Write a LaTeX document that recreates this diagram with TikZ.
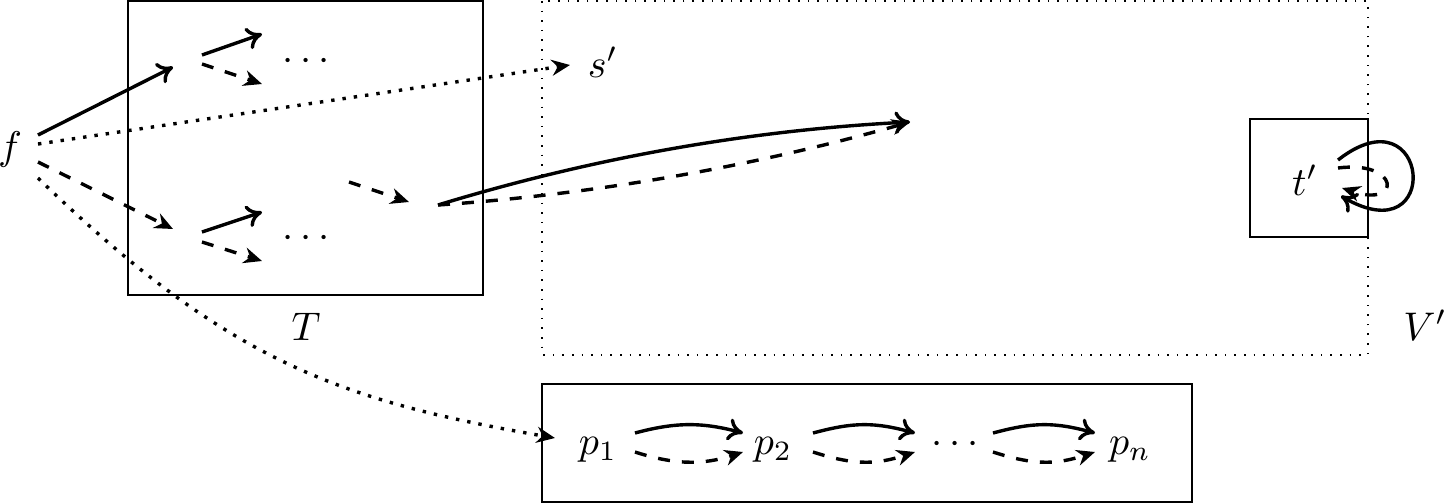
\documentclass[tikz,border=0pt]{standalone}
\usetikzlibrary{arrows.meta}
\begin{document}
\begin{tikzpicture}[x=0.25pt,y=-0.25pt,
  solidar/.style={line width=0.85pt,-{To[length=3.8pt,width=5.6pt]}},
  dashar/.style={line width=0.85pt,dashed,-{Stealth[length=4.6pt,width=4pt,inset=1.5pt]}},
  dotar/.style={line width=0.85pt,dotted,-{Stealth[length=4.6pt,width=4pt,inset=1.5pt]}},
  boxline/.style={line width=0.5pt},
  lbl/.style={inner sep=0pt,anchor=base}]
\useasboundingbox (0,0) rectangle (1448,504);
% boxes
\draw[boxline] (128,1) rectangle (483,295);
\draw[thin,dotted] (542,1) rectangle (1368,355);
\draw[boxline] (1250,119) rectangle (1368,237);
\draw[boxline] (542,384) rectangle (1192,502);
% labels
\node[inner sep=0pt] (f) at (10,149) {$f$};
\node[lbl] (T) at (306,340) {$T$};
\node[lbl] (V) at (1425,340) {$V'$};
\node[lbl,anchor=base west] (s) at (587,77) {$s'$};
\node[lbl] (t) at (1305,195) {$t'$};
\node[lbl] (p1) at (598,454) {$p_1$};
\node[lbl] (p2) at (773,454) {$p_2$};
\node[lbl] (pd) at (955,453) {$\cdots$};
\node[lbl] (pn) at (1130,454) {$p_n$};
\node[lbl] (ud) at (306,70) {$\cdots$};
\node[lbl] (ld) at (306,247) {$\cdots$};
% coordinates
\coordinate (f1) at (38,135);
\coordinate (f2) at (38,144);
\coordinate (f3) at (38,162);
\coordinate (f4) at (38,178);
\coordinate (uin) at (173,67);
\coordinate (lin) at (173,229);
\coordinate (sin) at (570,65);
\coordinate (pin) at (555,438);
\coordinate (uo1) at (202,55);
\coordinate (uo2) at (202,64);
\coordinate (ue1) at (262,34);
\coordinate (ue2) at (262,84);
\coordinate (lo1) at (202,232);
\coordinate (lo2) at (202,242);
\coordinate (le1) at (262,212);
\coordinate (le2) at (262,261);
\coordinate (ms) at (349,182);
\coordinate (me) at (409,202);
\coordinate (ls) at (438,205);
\coordinate (le) at (910,122);
\coordinate (ta) at (1338,160);
\coordinate (tb) at (1341,196);
\coordinate (tc) at (1338,168);
\coordinate (td) at (1342,188);
% arrows from f
\draw[solidar] (f1) -- (uin);
\draw[dotar] (f2) -- (sin);
\draw[dashar] (f3) -- (lin);
\draw[dotar] (f4) .. controls (225,359) and (335,400) .. (pin);
% inside T
\draw[solidar] (uo1) -- (ue1);
\draw[dashar] (uo2) -- (ue2);
\draw[solidar] (lo1) -- (le1);
\draw[dashar] (lo2) -- (le2);
\draw[dashar] (ms) -- (me);
% long arrows
\draw[solidar] (ls) .. controls (592,158) and (749,130) .. (le);
\draw[dashar] (ls) .. controls (598,194) and (755,166) .. (le);
% loops at t'
\draw[solidar] (ta) .. controls (1430,88) and (1444,256) .. (tb);
\draw[dashar] (tc) .. controls (1400,160) and (1402,208) .. (td);
% path p
\foreach \a/\b in {635/743, 813/915, 993/1095}{
  \draw[solidar] (\a,433) .. controls (\a+41,422) and (\b-41,422) .. (\b,433);
  \draw[dashar] (\a,452) .. controls (\a+40,465) and (\b-40,465) .. (\b,452);
}
\end{tikzpicture}
\end{document}
